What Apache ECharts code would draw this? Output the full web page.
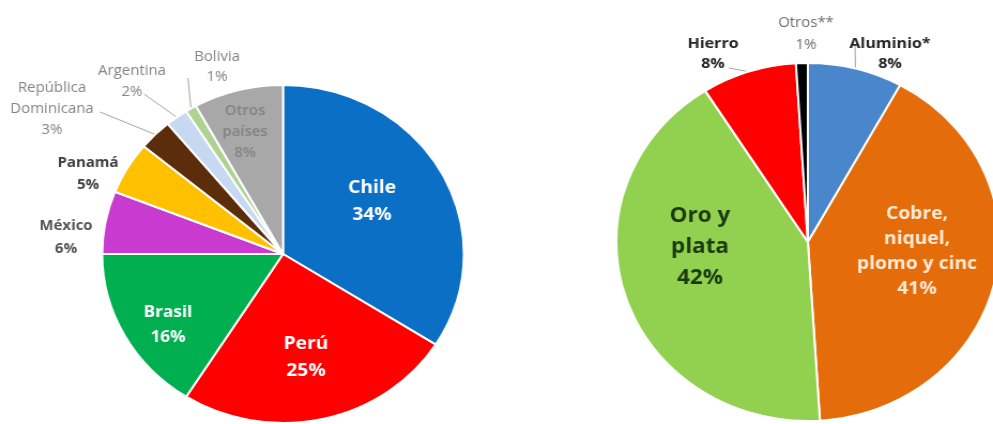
<!DOCTYPE html>
<html>
<head>
<meta charset="utf-8">
<script src="https://cdn.jsdelivr.net/npm/echarts@6/dist/echarts.min.js"></script>
<style>
  html, body { margin: 0; padding: 0; background: #ffffff; overflow: hidden; }
  #frame { width: 993px; height: 424px; overflow: hidden; }
  /* the two pies are drawn on a slightly narrower canvas and widened horizontally */
  #chart { width: 928px; height: 424px; transform: scaleX(1.07004); transform-origin: 0 0; }
</style>
</head>
<body>
<div id="frame"><div id="chart"></div></div>
<script>
// Inversión por país de destino (%)
const countries = ['Chile', 'Perú', 'Brasil', 'México', 'Panamá', 'República\nDominicana', 'Argentina', 'Bolivia', 'Otros\npaíses'];
const countryShare = [34, 25, 16, 6, 5, 3, 2, 1, 8];

// Inversión por mineral (%)
const minerals = ['Aluminio*', 'Cobre,\nniquel,\nplomo y cinc', 'Oro y\nplata', 'Hierro', 'Otros**'];
const mineralShare = [8, 41, 42, 8, 1];

const STRETCH = 993 / 928;
const FONT = '"Open Sans", "DejaVu Sans", sans-serif';

const countryColors = ['#0B6FC6', '#FF0000', '#00AF50', '#C93BD0', '#FFC000', '#5C2D0A', '#C6D9F0', '#AED28F', '#A8A8A8'];
const mineralColors = ['#4A86CC', '#E46C0A', '#92D050', '#FF0000', '#000000'];

// label styles per slice
const countryLabelStyle = [
  { inside: true, color: '#ffffff', fontSize: 18, fontWeight: 'bold', lineHeight: 27 },
  { inside: true, color: '#ffffff', fontSize: 18, fontWeight: 'bold', lineHeight: 27 },
  { inside: true, color: '#ffffff', fontSize: 16, fontWeight: 'bold', lineHeight: 25 },
  { color: '#555555', fontSize: 14, fontWeight: 'bold', lineHeight: 23, noLine: true },
  { color: '#404040', fontSize: 14, fontWeight: 'bold', lineHeight: 22, noLine: true },
  { color: '#858585', fontSize: 14, fontWeight: 'normal', lineHeight: 21 },
  { color: '#858585', fontSize: 14, fontWeight: 'normal', lineHeight: 21 },
  { color: '#858585', fontSize: 14, fontWeight: 'normal', lineHeight: 20 },
  { inside: true, color: '#838383', fontSize: 14, fontWeight: '600', lineHeight: 21 }
];
const mineralLabelStyle = [
  { color: '#262626', fontSize: 15, fontWeight: 'bold', lineHeight: 20 },
  { inside: true, color: '#FFEAD6', fontSize: 18, fontWeight: 'bold', lineHeight: 25 },
  { inside: true, color: '#1C3A10', fontSize: 21, fontWeight: 'bold', lineHeight: 31 },
  { color: '#262626', fontSize: 15, fontWeight: 'bold', lineHeight: 20 },
  { color: '#6F6F6F', fontSize: 14, fontWeight: 'normal', lineHeight: 22, noLine: true }
];

// label block centres and leader-line ends (page pixels)
const countryLabelAt = [[372, 201], [306, 357], [168, 325], [66, 238], [88, 174], [52, 109], [132, 82], [217, 67], [245, 132]];
const countryLineEnd = [null, null, null, null, null, [100, 112], [144, 94], [188, 78], null];
const mineralLabelAt = [[890, 54], [917, 251], [700, 247], [713, 54], [806, 34]];
const mineralLineEnd = [[855, 44], null, null, [729, 68], null];

function buildData(names, values, colors, styles) {
  return names.map((n, i) => {
    const s = styles[i];
    return {
      name: n,
      value: values[i],
      itemStyle: { color: colors[i] },
      label: {
        position: s.inside ? 'inside' : 'outside',
        color: s.color,
        fontSize: s.fontSize,
        fontWeight: s.fontWeight,
        lineHeight: s.lineHeight
      },
      labelLine: { show: !s.inside && !s.noLine }
    };
  });
}

function placeLabel(spots, ends) {
  return function (p) {
    const at = spots[p.dataIndex];
    const out = { x: at[0] / STRETCH, y: at[1], align: 'center', verticalAlign: 'middle' };
    const end = ends[p.dataIndex];
    if (end && p.labelLinePoints && p.labelLinePoints.length) {
      // start on the slice's outer edge (as laid out by the pie), end next to the text
      const start = p.labelLinePoints[0];
      out.labelLinePoints = [[start[0], start[1]], [end[0] / STRETCH, end[1]]];
    }
    return out;
  };
}

const common = {
  type: 'pie',
  clockwise: true,
  startAngle: 90,
  avoidLabelOverlap: false,
  animation: false,
  itemStyle: { borderColor: '#ffffff', borderWidth: 2 },
  label: {
    show: true,
    fontFamily: FONT,
    formatter: p => p.name + '\n' + p.value + '%'
  },
  labelLine: {
    show: true,
    length: 8,
    length2: 8,
    lineStyle: { color: '#A6A6A6', width: 1 }
  },
  emphasis: { disabled: true }
};

const chart = echarts.init(document.getElementById('chart'), null, { renderer: 'canvas' });
chart.setOption({
  backgroundColor: '#ffffff',
  animation: false,
  series: [
    Object.assign({}, common, {
      name: 'País',
      center: [264.5, 254],
      radius: 169,
      data: buildData(countries, countryShare, countryColors, countryLabelStyle),
      labelLayout: placeLabel(countryLabelAt, countryLineEnd)
    }),
    Object.assign({}, common, {
      name: 'Mineral',
      center: [755, 242],
      radius: 179,
      data: buildData(minerals, mineralShare, mineralColors, mineralLabelStyle),
      labelLayout: placeLabel(mineralLabelAt, mineralLineEnd)
    })
  ]
});
</script>
</body>
</html>
